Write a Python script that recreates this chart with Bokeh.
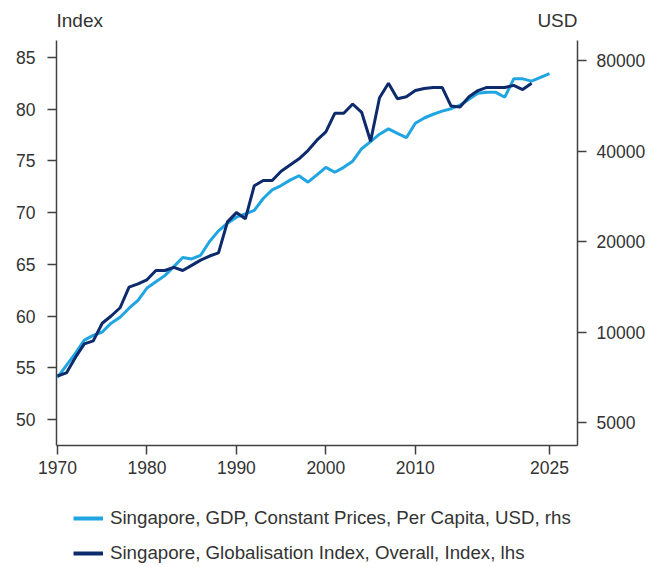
from bokeh.plotting import figure
from bokeh.layouts import column
from bokeh.models import (Range1d, LogScale, LogAxis, FixedTicker, Legend, LegendItem,
                          Label, NumeralTickFormatter)
from bokeh.embed import file_html
from bokeh.resources import INLINE

# ---- data ----
glob_years = list(range(1970, 2024))
glob_index = [54.2, 54.5, 56.0, 57.3, 57.6, 59.3, 60.0, 60.8, 62.8, 63.1,
              63.5, 64.4, 64.4, 64.7, 64.4, 64.9, 65.4, 65.8, 66.1, 69.1,
              70.0, 69.4, 72.6, 73.1, 73.1, 74.0, 74.6, 75.2, 76.0, 77.0,
              77.8, 79.6, 79.6, 80.5, 79.7, 76.9, 81.1, 82.5, 81.0, 81.2,
              81.8, 82.0, 82.1, 82.1, 80.3, 80.2, 81.2, 81.8, 82.1, 82.1,
              82.1, 82.3, 81.9, 82.5]

gdp_years = list(range(1970, 2026))
gdp_pc = [7070, 7750, 8490, 9400, 9750, 10000, 10700, 11200, 12000, 12750,
          14000, 14700, 15400, 16500, 17700, 17500, 18000, 20000, 21700, 23000,
          24100, 24700, 25400, 27800, 29700, 30700, 32000, 33100, 31500, 33300,
          35300, 34000, 35300, 37000, 40700, 43000, 45500, 47400, 45800, 44300,
          49500, 51500, 53000, 54300, 55300, 56800, 59500, 62200, 62700, 62700,
          60400, 69500, 69500, 68300, 70300, 72300]

x_ticks = [1970, 1980, 1990, 2000, 2010, 2025]
left_ticks = [50, 55, 60, 65, 70, 75, 80, 85]
right_ticks = [5000, 10000, 20000, 40000, 80000]

label_gdp = "Singapore, GDP, Constant Prices, Per Capita, USD, rhs"
label_glob = "Singapore, Globalisation Index, Overall, Index, lhs"
left_title = "Index"
right_title = "USD"

LIGHT = "#1FA5E1"
DARK = "#0C2A6C"
TXT = "#333333"
AX = "#404040"
FONT = "Liberation Sans"

W = 652
HEAD_H = 40
MAIN_H = 445
FOOT_H = 82
BL, BR = 56, 75

xr = Range1d(1969.89, 2028.13)

# ---- header strip with the two axis titles ----
head = figure(width=W, height=HEAD_H, output_backend="svg", toolbar_location=None,
              x_range=xr, y_range=Range1d(0, 1), x_axis_type=None, y_axis_type=None,
              min_border_left=BL, min_border_right=BR, min_border_top=0,
              min_border_bottom=0)
head.outline_line_color = None
head.xgrid.visible = False
head.ygrid.visible = False
head.add_layout(Label(x=xr.start, y=0.5, text=left_title, text_align="left",
                      text_baseline="middle", text_font=FONT, text_font_size="19px",
                      text_color=TXT))
head.add_layout(Label(x=xr.end, y=0.5, text=right_title, text_align="right",
                      text_baseline="middle", text_font=FONT, text_font_size="19px",
                      text_color=TXT))

# ---- main chart ----
p = figure(width=W, height=MAIN_H, output_backend="svg", toolbar_location=None,
           x_range=xr, y_range=Range1d(47.48, 86.64),
           min_border_left=BL, min_border_right=BR, min_border_top=0,
           min_border_bottom=40)
p.extra_y_ranges = {"usd": Range1d(4193, 93240)}
p.extra_y_scales = {"usd": LogScale()}

p.line(gdp_years, gdp_pc, y_range_name="usd", line_color=LIGHT, line_width=3)
p.line(glob_years, glob_index, line_color=DARK, line_width=3)

p.xgrid.visible = False
p.ygrid.visible = False
p.outline_line_color = None

rax = LogAxis(y_range_name="usd", ticker=FixedTicker(ticks=right_ticks),
              formatter=NumeralTickFormatter(format="0"))
p.add_layout(rax, "right")

p.xaxis.ticker = FixedTicker(ticks=x_ticks)
p.yaxis[0].ticker = FixedTicker(ticks=left_ticks)

for ax in [p.xaxis[0], p.yaxis[0], rax]:
    ax.axis_line_color = AX
    ax.axis_line_width = 1.5
    ax.major_tick_line_color = AX
    ax.major_tick_line_width = 1.5
    ax.major_tick_out = 9
    ax.major_tick_in = 0
    ax.minor_tick_out = 0
    ax.minor_tick_in = 0
    ax.major_label_text_font = FONT
    ax.major_label_text_font_size = "17.5px"
    ax.major_label_text_color = TXT

p.xaxis[0].major_label_standoff = 6
p.yaxis[0].major_label_standoff = 12
rax.major_label_standoff = 10

# ---- footer strip with the legend ----
foot = figure(width=W, height=FOOT_H, output_backend="svg", toolbar_location=None,
              x_range=xr, y_range=Range1d(0, 1), x_axis_type=None, y_axis_type=None,
              min_border_left=BL, min_border_right=BR, min_border_top=0,
              min_border_bottom=0)
foot.outline_line_color = None
foot.xgrid.visible = False
foot.ygrid.visible = False
k_light = foot.line(gdp_years, gdp_pc, line_color=LIGHT, line_width=4, visible=False)
k_dark = foot.line(glob_years, glob_index, line_color=DARK, line_width=4, visible=False)

legend = Legend(items=[LegendItem(label=label_gdp, renderers=[k_light]),
                       LegendItem(label=label_glob, renderers=[k_dark])],
                location=(17, 3), orientation="vertical", padding=0, margin=0,
                spacing=13, glyph_width=30, glyph_height=20, label_height=20,
                label_standoff=7, label_text_font=FONT,
                label_text_font_size="18.7px", label_text_color=TXT,
                border_line_color=None, background_fill_alpha=0,
                inactive_fill_alpha=0)
foot.add_layout(legend)

layout = column(head, p, foot, spacing=0)
open("out.html", "w").write(file_html(layout, INLINE))
